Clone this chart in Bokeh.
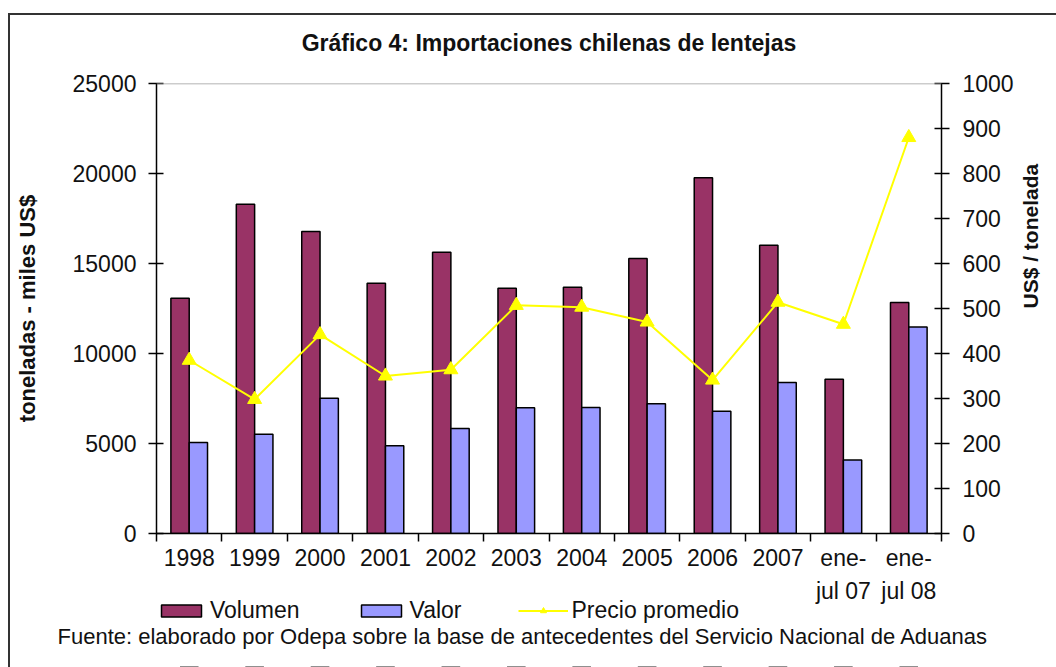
import math
from bokeh.plotting import figure
from bokeh.layouts import column
from bokeh.models import (Range1d, LinearAxis, FixedTicker, Legend, LegendItem,
                          Title, Span, ColumnDataSource, InlineStyleSheet)
from bokeh.transform import dodge
from bokeh.embed import file_html
from bokeh.resources import INLINE

categories = ["1998", "1999", "2000", "2001", "2002", "2003", "2004", "2005",
              "2006", "2007", "ene-\njul 07", "ene-\njul 08"]
volumen = [13070, 18290, 16780, 13900, 15620, 13630, 13680, 15280, 19770, 16020, 8570, 12830]
valor = [5050, 5510, 7520, 4870, 5840, 6990, 7000, 7210, 6790, 8390, 4090, 11470]
precio = [385, 298, 442, 350, 364, 507, 503, 470, 341, 514, 465, 880]
left_ticks = [0, 5000, 10000, 15000, 20000, 25000]
right_ticks = [0, 100, 200, 300, 400, 500, 600, 700, 800, 900, 1000]
series_names = ["Volumen", "Valor", "Precio promedio"]
source_note = "Fuente: elaborado por Odepa sobre la base de antecedentes del Servicio Nacional de Aduanas"

FONT = "Liberation Sans, Arial, sans-serif"
W, H = 1056, 667
H2 = 70
VOL_C, VAL_C, PR_C = "#993366", "#9999FF", "#FFFF00"

xs = [i + 0.5 for i in range(len(categories))]
src = ColumnDataSource(dict(x=xs, vol=volumen, val=valor, pr=precio))

p = figure(width=W, height=H, output_backend="svg", toolbar_location=None,
           x_range=Range1d(0, len(categories)), y_range=Range1d(0, 25000),
           min_border_left=156, min_border_right=113, min_border_top=83,
           min_border_bottom=134, background_fill_color="white",
           border_fill_color="white", outline_line_color=None)
p.extra_y_ranges = {"price": Range1d(0, 1000)}
p.xgrid.visible = False
p.ygrid.visible = False
p.xaxis.visible = False
p.yaxis.visible = False

p.title.text = "Gráfico 4: Importaciones chilenas de lentejas"
p.title.align = "center"
p.title.text_font = FONT
p.title.text_font_style = "bold"
p.title.text_font_size = "23px"
p.title.text_color = "#111"
p.title.standoff = 55

# x axis
xax = LinearAxis(ticker=FixedTicker(ticks=xs, minor_ticks=list(range(len(categories) + 1))))
xax.major_label_overrides = {x: c for x, c in zip(xs, categories)}
xax.major_tick_in = 0
xax.major_tick_out = 0
xax.minor_tick_in = 0
xax.minor_tick_out = 8
xax.minor_tick_line_color = "black"
xax.minor_tick_line_width = 1.5
xax.axis_line_width = 1.5
xax.axis_line_color = "black"
xax.major_label_standoff = 3
xax.major_label_text_font = FONT
xax.major_label_text_font_size = "23px"
xax.major_label_text_color = "#111"
xax.major_label_text_line_height = 1.3
p.add_layout(xax, "below")

# left axis
lax = LinearAxis(ticker=FixedTicker(ticks=left_ticks, minor_ticks=[]),
                 axis_label="toneladas - miles US$")
lax.major_tick_in = 7
lax.major_tick_out = 8
lax.major_tick_line_width = 1.5
lax.axis_line_width = 1.5
lax.major_label_standoff = 12
lax.major_label_text_font = FONT
lax.major_label_text_font_size = "23px"
lax.major_label_text_color = "#111"
lax.axis_label_text_font = FONT
lax.axis_label_text_font_style = "bold"
lax.axis_label_text_font_size = "22px"
lax.axis_label_text_color = "#111"
lax.axis_label_standoff = 30
p.add_layout(lax, "left")

# right axis
rax = LinearAxis(y_range_name="price", ticker=FixedTicker(ticks=right_ticks, minor_ticks=[]),
                 axis_label="US$ / tonelada")
rax.major_tick_in = 7
rax.major_tick_out = 8
rax.major_tick_line_width = 1.5
rax.axis_line_width = 1.5
rax.major_label_standoff = 13
rax.major_label_text_font = FONT
rax.major_label_text_font_size = "23px"
rax.major_label_text_color = "#111"
rax.axis_label_text_font = FONT
rax.axis_label_text_font_style = "bold"
rax.axis_label_text_font_size = "21px"
rax.axis_label_text_color = "#111"
rax.axis_label_standoff = 14
if "axis_label_orientation" in rax.properties():
    rax.axis_label_orientation = math.pi / 2
p.add_layout(rax, "right")

# source note under the axis
footer = Title(text=source_note, align="left", offset=-99, text_font=FONT,
               text_font_style="normal", text_font_size="22px", text_color="#111",
               standoff=29)
p.add_layout(footer, "below")

# top border of plot area
p.add_layout(Span(location=25000, dimension="width", line_color="#9a9a9a", line_width=1.5))

p.vbar(x=dodge("x", -0.14), top="vol", width=0.28, source=src,
       fill_color=VOL_C, line_color="black", line_width=1.5)
p.vbar(x=dodge("x", 0.14), top="val", width=0.28, source=src,
       fill_color=VAL_C, line_color="black", line_width=1.5)
p.line(x="x", y="pr", source=src, y_range_name="price", line_color=PR_C, line_width=2)
p.scatter(x="x", y="pr", source=src, y_range_name="price", marker="triangle",
          size=14, fill_color=PR_C, line_color=PR_C)

# transparent strip laid over the bottom of the chart, holding the legend
# (its y range lies far above the data, so its own glyphs fall off the canvas)
q = figure(width=W, height=H2, output_backend="svg", toolbar_location=None, title=None,
           x_range=Range1d(0, len(categories)), y_range=Range1d(1e6, 1e6 + 1),
           min_border=0, background_fill_alpha=0, border_fill_alpha=0,
           outline_line_color=None)
q.xaxis.visible = False
q.yaxis.visible = False
q.xgrid.visible = False
q.ygrid.visible = False
l_vol = q.vbar(x="x", top="vol", width=0.28, source=src, fill_color=VOL_C,
               line_color="black", line_width=1.5)
l_val = q.vbar(x="x", top="val", width=0.28, source=src, fill_color=VAL_C,
               line_color="black", line_width=1.5)
l_line = q.line(x="x", y="pr", source=src, line_color=PR_C, line_width=2)
l_pts = q.scatter(x="x", y="pr", source=src, marker="triangle", size=14,
                  fill_color=PR_C, line_color=PR_C)
legend = Legend(items=[LegendItem(label=series_names[0], renderers=[l_vol]),
                       LegendItem(label=series_names[1], renderers=[l_val]),
                       LegendItem(label=series_names[2], renderers=[l_line, l_pts])],
                orientation="horizontal", location=(0, 43), padding=0, margin=0,
                spacing=56, glyph_width=50, glyph_height=15, label_standoff=4,
                label_text_font=FONT, label_text_font_size="23px",
                label_text_color="#111",
                border_line_color=None, background_fill_alpha=0)
q.add_layout(legend, "center")
q.styles = {"margin-top": f"-{H2}px"}

layout = column(p, q, spacing=0)
layout.stylesheets = [InlineStyleSheet(css=""":host::after {
  content: ""; position: absolute; left: 8px; top: 13px; right: 0; bottom: 0;
  border-left: 2px solid #333; border-top: 2px solid #333; pointer-events: none;
}""")]

open("out.html", "w").write(file_html(layout, INLINE))
